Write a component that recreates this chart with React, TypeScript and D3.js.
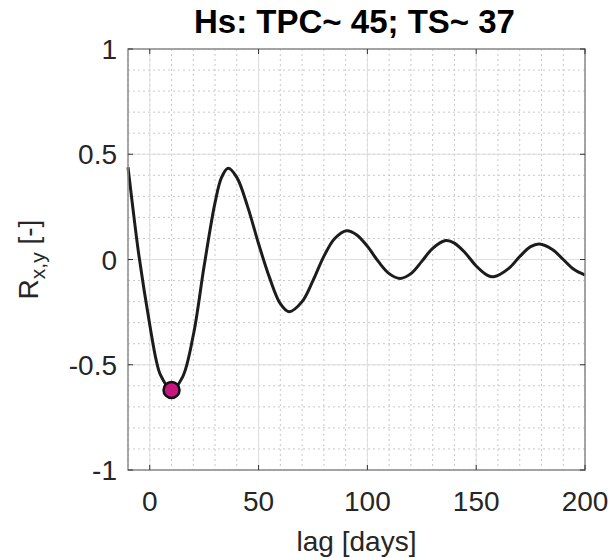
import React, { useEffect } from 'react';
import * as d3 from 'd3';

// lag [days] and correlation
const lagDays = [-10, -7, -5, 0, 3, 5, 10, 15, 20, 25, 30, 33, 36, 40, 45, 50, 55, 60, 64, 70, 75, 80, 85, 90.5, 95, 100, 105, 110, 115, 120, 125, 130, 136, 140, 145, 150, 155, 158, 165, 170, 175, 179, 185, 190, 195, 200];
const corrValues = [0.438, 0.18, 0.02, -0.31, -0.48, -0.55, -0.62, -0.56, -0.36, -0.03, 0.27, 0.39, 0.433, 0.39, 0.25, 0.075, -0.085, -0.21, -0.248, -0.2, -0.1, 0.015, 0.1, 0.137, 0.118, 0.063, -0.009, -0.067, -0.09, -0.067, -0.009, 0.053, 0.09, 0.078, 0.031, -0.031, -0.074, -0.082, -0.042, 0.014, 0.061, 0.074, 0.048, 0.0, -0.048, -0.074];

const xTicks = [0, 50, 100, 150, 200];
const yTicks = [-1, -0.5, 0, 0.5, 1];
const xMinor = [-10, 0, 10, 20, 30, 40, 50, 60, 70, 80, 90, 100, 110, 120, 130, 140, 150, 160, 170, 180, 190, 200];
const yMinor = [-1, -0.9, -0.8, -0.7, -0.6, -0.5, -0.4, -0.3, -0.2, -0.1, 0, 0.1, 0.2, 0.3, 0.4, 0.5, 0.6, 0.7, 0.8, 0.9, 1];

// marked minimum
const minLag = 10;
const minValue = -0.62;

const App = () => {
  useEffect(() => {
    document.body.style.margin = '0';
  }, []);

  const width = 611;
  const height = 558;
  const margin = { top: 49, right: 26, bottom: 88, left: 128 };
  const innerW = width - margin.left - margin.right;
  const innerH = height - margin.top - margin.bottom;

  const x = d3.scaleLinear().domain([-10, 200]).range([0, innerW]);
  const y = d3.scaleLinear().domain([-1, 1]).range([innerH, 0]);

  const pts = lagDays.map((d, i) => [d, corrValues[i]] as [number, number]);
  const line = d3.line<[number, number]>()
    .x(d => x(d[0]))
    .y(d => y(d[1]))
    .curve(d3.curveCatmullRom.alpha(0.5));

  const font = '"Liberation Sans", Arial, sans-serif';
  const tickLen = 5;

  return (
    <svg width={width} height={height} style={{ display: 'block', background: '#fff', fontFamily: font }}>
      <text x={margin.left + innerW / 2 - 2} y={33} textAnchor="middle" fontSize={33} fontWeight="bold" fill="#000">
        Hs: TPC~ 45; TS~ 37
      </text>
      <g transform={`translate(${margin.left},${margin.top})`}>
        <rect width={innerW} height={innerH} fill="#fff" />
        {/* minor grid */}
        {xMinor.map(v => (
          <line key={'xm' + v} x1={x(v)} x2={x(v)} y1={0} y2={innerH} stroke="#c8c8c8" strokeWidth={1} strokeDasharray="2,3" />
        ))}
        {yMinor.map(v => (
          <line key={'ym' + v} x1={0} x2={innerW} y1={y(v)} y2={y(v)} stroke="#c8c8c8" strokeWidth={1} strokeDasharray="2,3" />
        ))}
        {/* major grid */}
        {xTicks.map(v => (
          <line key={'xg' + v} x1={x(v)} x2={x(v)} y1={0} y2={innerH} stroke="#dedede" strokeWidth={1} />
        ))}
        {yTicks.map(v => (
          <line key={'yg' + v} x1={0} x2={innerW} y1={y(v)} y2={y(v)} stroke="#dedede" strokeWidth={1} />
        ))}
        {/* curve */}
        <path d={line(pts) || ''} fill="none" stroke="#1c1c1c" strokeWidth={3} />
        <circle cx={x(minLag)} cy={y(minValue)} r={8} fill="#c8157f" stroke="#111" strokeWidth={2.5} />
        {/* box */}
        <rect width={innerW} height={innerH} fill="none" stroke="#8c8c8c" strokeWidth={1.5} />
        {/* ticks */}
        {xTicks.map(v => (
          <g key={'xt' + v}>
            <line x1={x(v)} x2={x(v)} y1={innerH} y2={innerH - tickLen} stroke="#333" strokeWidth={1} />
            <line x1={x(v)} x2={x(v)} y1={0} y2={tickLen} stroke="#333" strokeWidth={1} />
            <text x={x(v)} y={innerH + 41} textAnchor="middle" fontSize={28} fill="#262626">{v}</text>
          </g>
        ))}
        {yTicks.map(v => (
          <g key={'yt' + v}>
            <line x1={0} x2={tickLen} y1={y(v)} y2={y(v)} stroke="#333" strokeWidth={1} />
            <line x1={innerW} x2={innerW - tickLen} y1={y(v)} y2={y(v)} stroke="#333" strokeWidth={1} />
            <text x={-11} y={y(v)} dy="0.36em" textAnchor="end" fontSize={28} fill="#262626">{v}</text>
          </g>
        ))}
        <text x={innerW / 2} y={innerH + 81} textAnchor="middle" fontSize={28} fill="#262626">lag [days]</text>
        <text transform={`translate(${-90},${innerH / 2}) rotate(-90)`} textAnchor="middle" fontSize={28} fill="#262626">
          R<tspan fontSize={21} dy={7}>x,y</tspan><tspan dy={-7}> [-]</tspan>
        </text>
      </g>
    </svg>
  );
};

export default App;
